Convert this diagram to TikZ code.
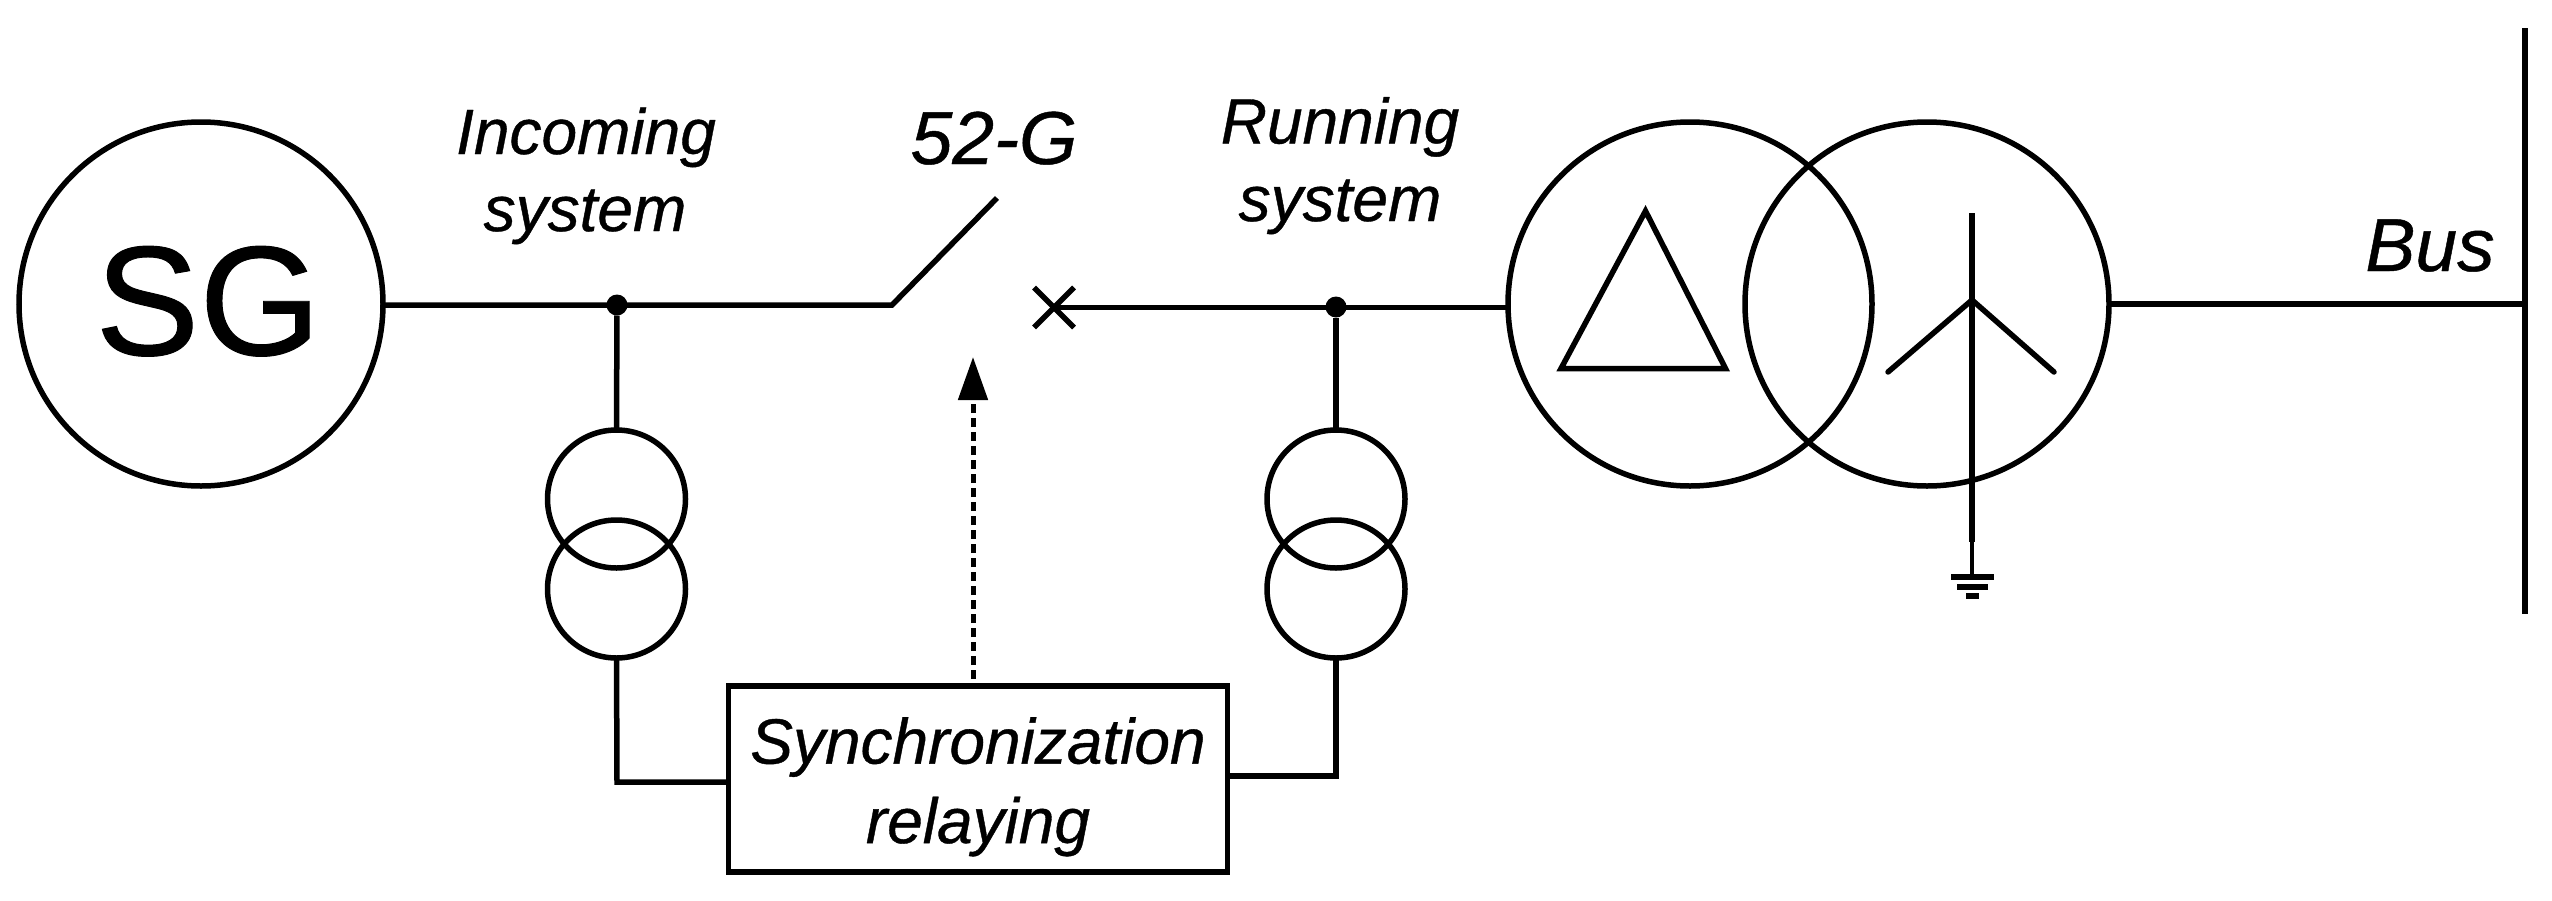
\documentclass[tikz,border=0pt]{standalone}
\usepackage{fontspec}
\setmainfont[FakeBold=0.6]{Liberation Sans}
\usetikzlibrary{arrows.meta}
\tikzset{
  x=1pt,y=-1pt,
  wire/.style={line width=5.5pt,line cap=butt,line join=miter},
  bigcirc/.style={circle,draw,line width=5.5pt,inner sep=0pt,outer sep=0pt,minimum size=364pt},
  ctcirc/.style={circle,draw,line width=5.5pt,inner sep=0pt,outer sep=0pt,minimum size=138pt},
  dotnode/.style={circle,fill=black,inner sep=0pt,outer sep=0pt,minimum size=21pt},
  lbl/.style={anchor=base,inner sep=0pt,font=\fontsize{64}{64}\selectfont\itshape},
  biglbl/.style={anchor=base,inner sep=0pt,font=\fontsize{75}{75}\selectfont\itshape},
}
\begin{document}
\begin{tikzpicture}
\useasboundingbox (0,0) rectangle (2552,900);
% main machines
\node[bigcirc,font=\fontsize{156}{156}\selectfont] (sg) at (201,304) {\hspace*{14pt}\raisebox{7pt}{SG}};
\node[bigcirc] (delta) at (1690,304) {};
\node[bigcirc] (wye) at (1927,304) {};
% instrument transformers
\node[ctcirc] (ctla) at (616.5,499) {};
\node[ctcirc] (ctlb) at (616.5,589) {};
\node[ctcirc] (ctra) at (1336,499) {};
\node[ctcirc] (ctrb) at (1336,589) {};
% junctions
\node[dotnode] (jl) at (617,305) {};
\node[dotnode] (jr) at (1336,307) {};
% relay
\node[draw,line width=5.5pt,inner sep=0pt,outer sep=0pt,minimum width=499pt,minimum height=186pt,align=center,
  font=\fontsize{64}{79.5}\selectfont\itshape] (relay) at (978,779) {\rule{0pt}{62pt}Synchronization\\relaying};
% switch
\coordinate (hinge) at (892,305);
\coordinate (tip) at (997,198);
\coordinate (xc) at (1054,307.5);
\coordinate (xa) at (1034,287.5);
\coordinate (xb) at (1074,327.5);
\coordinate (xd) at (1034,327.5);
\coordinate (xe) at (1074,287.5);
\draw[wire] (sg.east |- hinge) -- (hinge) -- (tip);
\draw[wire] (xa) -- (xb);
\draw[wire] (xd) -- (xe);
\draw[wire] (xc) -- (delta.west |- xc);
% transformer branches
\draw[wire] (jl) -- (ctla.north);
\draw[wire] (jr) -- (ctra.north);
\coordinate (cnl) at (617,782);
\coordinate (cnr) at (1336,776);
\draw[wire] (ctlb.south) -- (cnl) -- (relay.west |- cnl);
\draw[wire] (ctrb.south) -- (cnr) -- (relay.east |- cnr);
% control arrow
\coordinate (cmd) at (973,357);
\draw[line width=5pt,dash pattern=on 9pt off 5pt,shorten <=7pt,-{Triangle[length=43pt,width=29pt]}] (relay.north -| cmd) -- (cmd);
% bus
\coordinate (bustop) at (2525,28);
\coordinate (busbot) at (2525,614);
\draw[wire] (bustop) -- (busbot);
\draw[wire] (wye.east) -- (wye.east -| bustop);
% delta winding
\coordinate (da) at (1645.5,211);
\coordinate (db) at (1561,368.5);
\coordinate (dc) at (1725.5,368.5);
\draw[wire] (da) -- (db) -- (dc) -- cycle;
% wye winding and earth
\coordinate (ytop) at (1972,213);
\coordinate (yc) at (1972,300);
\coordinate (yl) at (1888,372);
\coordinate (yr) at (2054,372);
\coordinate (ylow) at (1972,542);
\coordinate (yg) at (1972,577);
\draw[wire,line cap=round] (yl) -- (yc) -- (yr);
\draw[wire,line width=6pt] (ytop) -- (ylow);
\draw[line width=4pt] (ylow) -- (yg);
\draw[line width=6pt] (1951,577) -- (1994,577);
\draw[line width=6pt] (1957,587) -- (1988,587);
\draw[line width=6pt] (1966,596) -- (1979,596);
% labels
\node[lbl] (t1) at (586,154) {Incoming};
\node[lbl] (t2) at (585,231) {system};
\node[biglbl] (t3) at (994,164) {52-G};
\node[lbl] (t4) at (1340,143.5) {Running};
\node[lbl] (t5) at (1340,221) {system};
\node[biglbl] (t6) at (2430,271) {Bus};
\end{tikzpicture}
\end{document}
